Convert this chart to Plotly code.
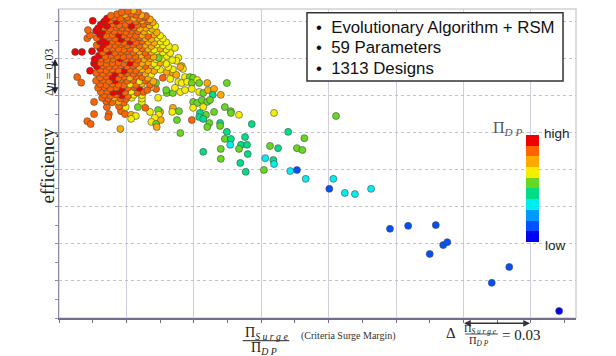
import plotly.graph_objects as go

# Values are in grid units: one grid step = 0.03 on both axes
# (x: Pi_Surge/Pi_DP, y: efficiency). Third entry = Pi_DP class (0 low .. 9 high).

cluster_core = [
    (0.93, 8.26, 8), (1.02, 8.29, 8), (1.10, 8.31, 7), (1.17, 8.28, 8),
    (0.77, 8.17, 8), (0.86, 8.21, 8), (0.98, 8.20, 7), (1.07, 8.22, 8), (1.14, 8.19, 8), (1.22, 8.18, 7), (1.29, 8.16, 8),
    (0.71, 8.09, 9), (0.82, 8.12, 8), (0.91, 8.10, 8), (1.01, 8.13, 8), (1.11, 8.11, 7), (1.19, 8.09, 8), (1.26, 8.12, 8), (1.35, 8.07, 7),
    (0.50, 8.03, 9), (0.67, 8.01, 9), (0.76, 8.04, 8), (0.85, 8.02, 9), (0.93, 8.05, 8), (1.04, 8.03, 8), (1.14, 8.01, 8), (1.23, 8.04, 7), (1.32, 8.02, 8), (1.39, 7.99, 7),
    (0.62, 7.93, 9), (0.71, 7.90, 9), (0.80, 7.94, 8), (0.89, 7.91, 8), (0.98, 7.93, 8), (1.07, 7.90, 9), (1.16, 7.92, 8), (1.25, 7.94, 8), (1.34, 7.91, 7), (1.43, 7.89, 6),
    (0.58, 7.83, 9), (0.67, 7.85, 8), (0.76, 7.82, 8), (0.85, 7.86, 8), (0.93, 7.84, 8), (1.02, 7.83, 8), (1.11, 7.85, 8), (1.20, 7.82, 7), (1.29, 7.84, 7), (1.38, 7.81, 7),
    (0.43, 7.78, 8), (0.55, 7.76, 9), (0.64, 7.74, 9), (0.73, 7.77, 8), (0.82, 7.75, 8), (0.91, 7.76, 8), (0.99, 7.73, 8), (1.08, 7.77, 8), (1.17, 7.75, 8), (1.26, 7.74, 7), (1.35, 7.76, 6), (1.45, 7.72, 7),
    (0.46, 7.64, 8), (0.61, 7.66, 9), (0.70, 7.63, 8), (0.79, 7.65, 8), (0.88, 7.67, 9), (0.96, 7.64, 8), (1.05, 7.66, 8), (1.14, 7.63, 8), (1.23, 7.65, 7), (1.32, 7.62, 8), (1.41, 7.66, 7), (1.50, 7.63, 6),
    (0.42, 7.56, 8), (0.56, 7.57, 8), (0.65, 7.55, 9), (0.74, 7.58, 8), (0.83, 7.56, 8), (0.92, 7.54, 9), (1.01, 7.57, 8), (1.10, 7.55, 8), (1.19, 7.58, 8), (1.28, 7.56, 7), (1.37, 7.54, 7), (1.45, 7.57, 6), (1.54, 7.55, 6),
    (0.61, 7.47, 9), (0.70, 7.45, 9), (0.79, 7.48, 8), (0.88, 7.46, 8), (0.96, 7.44, 8), (1.05, 7.47, 9), (1.14, 7.45, 8), (1.23, 7.48, 8), (1.32, 7.46, 7), (1.41, 7.44, 7), (1.50, 7.47, 6), (1.59, 7.45, 6),
    (0.56, 7.37, 8), (0.65, 7.39, 9), (0.74, 7.36, 8), (0.83, 7.38, 8), (0.92, 7.40, 8), (1.01, 7.37, 8), (1.10, 7.39, 8), (1.19, 7.36, 8), (1.28, 7.38, 7), (1.37, 7.35, 7), (1.45, 7.39, 6), (1.54, 7.37, 6), (1.63, 7.34, 6),
    (0.61, 7.28, 9), (0.70, 7.26, 8), (0.79, 7.29, 8), (0.88, 7.27, 8), (0.96, 7.25, 8), (1.05, 7.28, 8), (1.14, 7.26, 7), (1.23, 7.29, 8), (1.32, 7.27, 7), (1.41, 7.25, 6), (1.50, 7.28, 7), (1.59, 7.26, 6),
    (0.24, 7.19, 9), (0.34, 7.19, 9), (0.49, 7.21, 9), (0.65, 7.18, 8), (0.74, 7.20, 9), (0.83, 7.17, 8), (0.92, 7.19, 8), (1.01, 7.21, 8), (1.10, 7.18, 8), (1.19, 7.20, 7), (1.28, 7.17, 8), (1.37, 7.19, 7), (1.45, 7.21, 6), (1.54, 7.18, 6), (1.65, 7.16, 6),
    (0.59, 7.09, 9), (0.68, 7.07, 8), (0.77, 7.10, 8), (0.86, 7.08, 8), (0.95, 7.06, 8), (1.04, 7.09, 8), (1.13, 7.07, 8), (1.22, 7.10, 7), (1.31, 7.08, 8), (1.40, 7.06, 7), (1.48, 7.03, 5), (1.60, 7.08, 6),
    (0.53, 6.99, 9), (0.62, 7.01, 8), (0.71, 6.98, 8), (0.80, 7.00, 8), (0.91, 7.02, 9), (0.99, 6.99, 8), (1.08, 7.01, 8), (1.17, 6.98, 8), (1.26, 7.00, 7), (1.35, 7.02, 7), (1.44, 6.99, 6), (1.53, 7.01, 6), (1.68, 6.97, 6),
    (0.52, 6.88, 9), (0.61, 6.90, 8), (0.70, 6.87, 8), (0.79, 6.89, 8), (0.88, 6.91, 8), (0.96, 6.88, 8), (1.05, 6.90, 9), (1.14, 6.87, 8), (1.23, 6.89, 7), (1.32, 6.91, 7), (1.41, 6.88, 6), (1.50, 6.90, 7), (1.59, 6.87, 6),
    (0.56, 6.80, 9), (0.65, 6.82, 8), (0.74, 6.79, 8), (0.83, 6.81, 8), (0.92, 6.83, 8), (1.01, 6.80, 8), (1.10, 6.82, 8), (1.19, 6.79, 7), (1.28, 6.81, 8), (1.37, 6.83, 7), (1.45, 6.80, 6),
    (0.46, 6.68, 9), (0.61, 6.71, 8), (0.70, 6.69, 8), (0.79, 6.72, 8), (0.88, 6.70, 8), (0.96, 6.68, 9), (1.05, 6.71, 8), (1.14, 6.69, 8), (1.23, 6.72, 7), (1.32, 6.70, 7), (1.41, 6.68, 7), (1.50, 6.71, 6),
    (0.55, 6.62, 8), (0.65, 6.60, 8), (0.74, 6.63, 8), (0.83, 6.61, 9), (0.92, 6.59, 8), (1.01, 6.62, 8), (1.10, 6.60, 8), (1.19, 6.63, 8), (1.28, 6.61, 7), (1.37, 6.59, 6),
    (0.27, 6.51, 8), (0.61, 6.50, 8), (0.70, 6.53, 8), (0.79, 6.51, 9), (0.88, 6.49, 8), (0.96, 6.52, 8), (1.05, 6.50, 7), (1.14, 6.53, 8), (1.23, 6.51, 8), (1.32, 6.49, 7),
    (0.55, 6.41, 8), (0.65, 6.43, 8), (0.74, 6.40, 8), (0.83, 6.42, 9), (0.92, 6.44, 8), (1.01, 6.41, 8), (1.10, 6.43, 8), (1.19, 6.40, 6), (1.28, 6.42, 8), (1.40, 6.39, 7),
    (0.33, 6.36, 8), (0.61, 6.32, 8), (0.70, 6.30, 8), (0.79, 6.33, 8), (0.88, 6.31, 8), (0.96, 6.29, 8), (1.05, 6.32, 6), (1.14, 6.30, 8), (1.23, 6.33, 7), (1.35, 6.31, 8), (1.44, 6.36, 5),
    (0.58, 6.22, 8), (0.67, 6.24, 8), (0.76, 6.21, 8), (0.85, 6.23, 8), (0.93, 6.20, 9), (1.02, 6.22, 8), (1.11, 6.24, 8), (1.19, 6.22, 9), (1.31, 6.16, 8), (1.37, 6.24, 7), (1.44, 6.19, 8),
    (0.62, 6.11, 8), (0.71, 6.13, 8), (0.80, 6.10, 9), (0.89, 6.12, 9), (0.98, 6.10, 8), (1.07, 6.12, 6), (1.16, 6.09, 8), (1.25, 6.11, 8),
    (0.67, 6.03, 8), (0.76, 6.01, 8), (0.85, 6.04, 8), (0.93, 6.02, 9), (1.02, 6.00, 8), (1.11, 6.03, 6), (1.23, 6.02, 6),
    (0.64, 5.95, 8), (0.73, 5.93, 8), (0.82, 5.96, 7), (0.91, 5.94, 8), (0.99, 5.92, 8), (1.08, 5.95, 6), (1.23, 5.93, 6), (1.47, 5.95, 6),
    (0.52, 5.84, 8), (0.70, 5.86, 8), (0.79, 5.83, 8), (0.88, 5.85, 7), (0.96, 5.82, 8), (1.23, 5.84, 6),
    (0.71, 5.70, 8), (0.89, 5.72, 8), (0.99, 5.70, 6), (1.17, 5.70, 5), (1.28, 5.68, 8),
]

cluster_fringe = [
    (0.92, 5.59, 8), (1.35, 5.57, 6), (1.47, 5.62, 5), (1.48, 5.49, 6), (1.51, 5.35, 7),
    (0.52, 5.51, 8), (0.74, 5.51, 8), (0.98, 5.51, 8), (1.07, 5.49, 7), (1.14, 5.46, 6),
    (0.73, 5.43, 8), (1.07, 5.38, 6), (1.42, 5.41, 6), (0.42, 5.32, 8), (0.47, 5.24, 8),
    (1.37, 5.30, 6), (1.44, 5.24, 5), (1.45, 5.16, 7), (0.91, 5.11, 7),
]

transition = [
    (1.82, 6.81, 7), (1.84, 6.73, 6), (1.60, 6.65, 7), (1.69, 6.62, 7), (1.74, 6.57, 7), (1.54, 6.49, 8),
    (1.87, 6.51, 6), (1.94, 6.51, 5), (1.99, 6.49, 5), (1.65, 6.46, 6), (1.77, 6.38, 6), (1.82, 6.35, 6),
    (1.90, 6.38, 6), (1.97, 6.35, 5), (2.05, 6.43, 6), (2.08, 6.35, 5), (2.20, 6.35, 7), (2.49, 6.35, 5),
    (1.60, 6.08, 5), (1.69, 6.08, 5), (1.80, 6.11, 6), (1.72, 6.22, 6), (1.87, 6.16, 6), (1.97, 6.19, 6),
    (2.08, 6.11, 6), (2.14, 6.08, 5), (2.21, 6.16, 7), (2.30, 6.19, 7), (2.28, 6.03, 4), (2.40, 6.03, 7),
    (1.99, 5.84, 5), (2.05, 5.81, 5), (2.12, 5.89, 5), (2.20, 5.84, 5), (2.24, 5.89, 5), (1.99, 5.68, 6),
    (2.14, 5.70, 6), (1.50, 5.57, 7), (1.69, 5.68, 7), (1.68, 5.57, 6), (1.78, 5.59, 5), (2.09, 5.54, 4),
    (2.08, 5.43, 4), (2.14, 5.38, 4), (1.75, 5.35, 5), (1.97, 5.35, 8), (1.80, 5.00, 5), (1.59, 6.16, 5),
    (1.72, 7.30, 6), (1.77, 7.03, 6), (1.69, 6.72, 6), (1.62, 6.78, 6), (1.80, 6.78, 7), (1.74, 6.95, 6),
]

tail = [
    (2.46, 5.70, 5), (2.30, 5.57, 5), (2.55, 5.59, 5), (2.55, 5.54, 5), (2.67, 5.49, 6), (3.19, 5.54, 6),
    (4.11, 5.46, 5), (2.18, 5.49, 5), (2.23, 5.27, 5), (2.20, 5.16, 5), (2.39, 5.27, 4), (2.39, 5.19, 5),
    (2.86, 5.24, 4), (2.49, 5.03, 4), (2.76, 4.89, 4), (3.40, 5.03, 4), (3.64, 4.86, 5), (2.46, 4.84, 5),
    (2.55, 4.84, 4), (2.54, 4.68, 3), (2.70, 4.68, 4), (2.79, 4.68, 4), (2.67, 4.57, 5), (2.40, 4.57, 5),
    (2.14, 4.49, 4), (3.13, 4.65, 5), (3.25, 4.59, 4), (3.53, 4.59, 5), (3.61, 4.54, 5), (2.80, 4.43, 4),
    (2.40, 4.30, 5), (3.06, 4.32, 3), (3.18, 4.27, 4), (3.19, 4.16, 3), (2.69, 4.19, 4), (3.04, 4.00, 5),
    (2.77, 3.95, 4), (3.43, 3.97, 3), (3.53, 4.00, 1), (3.66, 3.76, 3), (4.07, 3.76, 3), (4.01, 3.49, 1),
    (4.24, 3.38, 3), (4.39, 3.35, 3), (4.63, 3.49, 3), (4.91, 2.41, 1), (5.18, 2.49, 1), (5.59, 2.51, 1),
    (5.50, 1.73, 1), (5.70, 1.97, 1), (5.76, 2.05, 1), (6.68, 1.38, 1), (6.42, 0.95, 1), (7.42, 0.19, 0),
]

# Pi_DP colour classes, low (0) -> high (9)
pi_dp_colors = ["#0000f0", "#0050ff", "#0099ff", "#00eef0", "#00dd88",
                "#66d822", "#f4ee00", "#ffaa00", "#ff6400", "#f00000"]

legend_lines = ["•  Evolutionary Algorithm + RSM", "•  59 Parameters", "•  1313 Designs"]

X_RANGE = [0, 7.67]
Y_RANGE = [0, 8.35]

# ---------------------------------------------------------------
points = tail + transition + cluster_fringe + cluster_core[::-1]
xs = [p[0] for p in points]
ys = [p[1] for p in points]
cs = [p[2] for p in points]

n = len(pi_dp_colors)
cscale = []
for i, c in enumerate(pi_dp_colors):
    cscale.append([i / n, c])
    cscale.append([(i + 1) / n, c])

fig = go.Figure(go.Scatter(
    x=xs, y=ys, mode="markers", hoverinfo="skip", showlegend=False,
    marker=dict(size=7, color=cs, colorscale=cscale, cmin=-0.5, cmax=n - 0.5,
                line=dict(color="#4a4a4a", width=0.6),
                colorbar=dict(x=0.9033, xanchor="left", xpad=0, y=0.419, yanchor="middle", ypad=0,
                              len=107, lenmode="pixels", thickness=13, thicknessmode="pixels",
                              outlinewidth=0, showticklabels=False, ticks="")),
))

axis_col = "#70708a"
fig.update_xaxes(range=X_RANGE, tick0=0, dtick=1, showgrid=True, gridcolor="#cfcfe2", gridwidth=1,
                 zeroline=False, showline=True, linecolor=axis_col, linewidth=1.5,
                 ticks="outside", ticklen=3, tickcolor=axis_col, showticklabels=False,
                 minor=dict(dtick=0.5, ticks="outside", ticklen=3, tickcolor=axis_col, showgrid=False))
fig.update_yaxes(range=Y_RANGE, tick0=0, dtick=1, showgrid=True, gridcolor="#c2c2cc", gridwidth=1,
                 griddash="dot", zeroline=False, showline=True, linecolor="#8c8ca4", linewidth=1.2,
                 ticks="outside", ticklen=3, tickcolor="#8c8ca4", showticklabels=False,
                 minor=dict(dtick=0.5, ticks="outside", ticklen=3, tickcolor="#8c8ca4", showgrid=False))

serif = "Liberation Serif"
sans = "Liberation Sans"
shapes = [
    dict(type="rect", xref="paper", yref="paper", x0=0, x1=1, y0=0, y1=1,
         line=dict(color="#d2d2d2", width=1.5), layer="below"),
    dict(type="rect", xref="paper", yref="paper", x0=0.4797, x1=0.9749, y0=0.767, y1=0.988,
         line=dict(color="#333333", width=1.5), fillcolor="white", layer="above"),
    # fraction bars
    dict(type="line", xref="paper", yref="paper", x0=0.3553, x1=0.4455, y0=-0.0735, y1=-0.0735,
         line=dict(color="#222", width=1)),
    dict(type="line", xref="paper", yref="paper", x0=0.7853, x1=0.8491, y0=-0.0518, y1=-0.0518,
         line=dict(color="#222", width=0.8)),
]

SURGE = "<i>S u r g e</i>"
DP = "<i>D P</i>"


def arrow(x, y, ax, ay, color):
    # double-headed arrow: head at paper (x, y), tail offset (ax, ay) in pixels
    return dict(xref="paper", yref="paper", x=x, y=y, ax=ax, ay=ay,
                text=".", font=dict(size=2, color="rgba(0,0,0,0)"), showarrow=True,
                arrowhead=2, startarrowhead=2, arrowside="end+start", arrowsize=0.9,
                startarrowsize=0.9, standoff=0, startstandoff=0, arrowwidth=1.5,
                arrowcolor=color, borderpad=0)


def label(x, y, text, size, family=serif, color="#222", xanchor="center", angle=0):
    return dict(xref="paper", yref="paper", x=x, y=y, xanchor=xanchor, yanchor="middle",
                showarrow=False, text=text, textangle=angle,
                font=dict(family=family, size=size, color=color))


ann = []
for i, line in enumerate(legend_lines):
    ann.append(label(0.4932, [0.9417, 0.877, 0.809][i], line, 16.8, family=sans, color="#111",
                     xanchor="left"))

ann += [
    label(-0.0222, 0.492, "efficiency", 19, angle=-90),
    label(-0.0184, 0.7945, "Δ<i>η</i> = 0.03", 12, angle=-90),
    # one efficiency grid step (vertical) and one surge-margin grid step (horizontal)
    arrow(-0.0077, 0.8382, 0, 37, "#222"),
    arrow(0.9110, -0.0172, -67, 0, "#333"),
    # x-axis label fraction
    label(0.4004, -0.0505, "Π<sub>" + SURGE + "</sub>", 14),
    label(0.3965, -0.0975, "Π<sub>" + DP + "</sub>", 14),
    label(0.5605, -0.0595, "(Criteria Surge Margin)", 10, family="Liberation Sans Narrow", color="#333"),
    # delta annotation
    label(0.758, -0.0485, "Δ", 15),
    label(0.8162, -0.0372, "Π<sub>" + SURGE + "</sub>", 10.5),
    label(0.8124, -0.0761, "Π<sub>" + DP + "</sub>", 10.5),
    label(0.8936, -0.055, "= 0.03", 15),
    # colour bar labels
    label(0.899, 0.6117, "Π<sub>" + DP + "</sub>", 16, color="#555", xanchor="right"),
    label(0.934, 0.5987, "high", 13.5, family=sans, xanchor="left"),
    label(0.936, 0.2362, "low", 13.5, family=sans, xanchor="left"),
]

# the page body adds an 8px offset, so the figure is 8px smaller and the margins compensate
fig.update_layout(
    width=608, height=348,
    margin=dict(l=51, r=40, t=1, b=38, autoexpand=False),
    paper_bgcolor="white", plot_bgcolor="white",
    shapes=shapes, annotations=ann, showlegend=False,
)

fig.write_html("out.html")
